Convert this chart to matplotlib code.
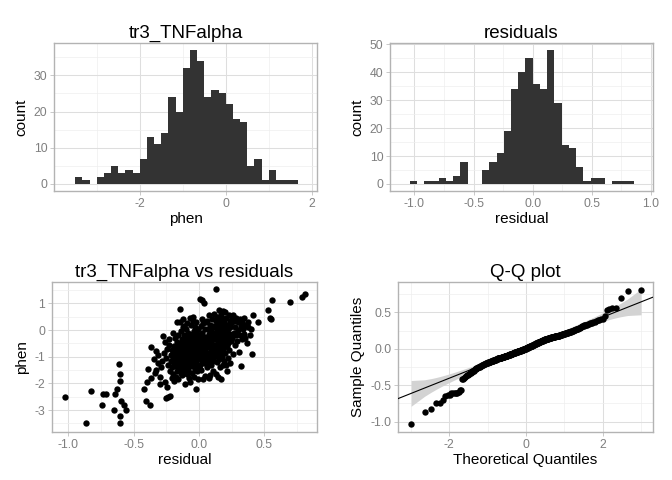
import numpy as np
import matplotlib
matplotlib.use('Agg')
import matplotlib.pyplot as plt
from statistics import NormalDist

plt.rcParams['font.family'] = ['Liberation Sans', 'DejaVu Sans']
plt.rcParams['axes.unicode_minus'] = False

# histogram of phen: first bin edge, bin width, counts
phen_start = -3.5135
phen_bw = 0.1672
phen_counts = [2, 1, 0, 2, 3, 5, 3, 4, 3, 7, 13, 11, 14, 24, 20, 32, 37, 34,
               24, 26, 25, 22, 18, 17, 5, 7, 1, 4, 1, 1, 1]

# histogram of residuals
resid_start = -1.0395
resid_bw = 0.06116
resid_counts = [1, 0, 1, 1, 2, 1, 3, 8, 0, 0, 5, 8, 11, 19, 34, 40, 45, 36, 34,
                48, 29, 14, 13, 6, 1, 2, 2, 0, 1, 1, 1]

resid = [
    -1.028, -0.867, -0.824, -0.745, -0.738, -0.708, -0.653, -0.640, -0.627,
    -0.610, -0.607, -0.602, -0.604, -0.601, -0.598, -0.571, -0.560,
    -0.421, -0.408, -0.398, -0.390, -0.377,
    -0.365, -0.364, -0.347, -0.340, -0.329, -0.326, -0.315, -0.311,
    -0.301, -0.298, -0.290, -0.283, -0.275, -0.270, -0.262, -0.258, -0.255, -0.250, -0.248,
    -0.243, -0.240, -0.236, -0.232, -0.228, -0.224, -0.220, -0.217, -0.214, -0.210,
    -0.206, -0.203, -0.200, -0.197, -0.195, -0.192, -0.190, -0.188, -0.186,
    -0.183, -0.181, -0.179, -0.177, -0.175, -0.173, -0.171, -0.169, -0.167, -0.165,
    -0.163, -0.161, -0.159, -0.157, -0.155, -0.153, -0.151, -0.149, -0.147, -0.145,
    -0.143, -0.141, -0.139, -0.137, -0.135, -0.133, -0.131, -0.130, -0.129, -0.128,
    -0.127, -0.126, -0.125, -0.124,
    -0.122, -0.120, -0.119, -0.117, -0.116, -0.114, -0.113, -0.111, -0.110, -0.108,
    -0.107, -0.105, -0.104, -0.102, -0.101, -0.099, -0.098, -0.096, -0.095, -0.094,
    -0.092, -0.091, -0.089, -0.088, -0.086, -0.085, -0.083, -0.082, -0.080, -0.079,
    -0.077, -0.076, -0.074, -0.073, -0.071, -0.070, -0.068, -0.067, -0.065, -0.063,
    -0.061, -0.060, -0.058, -0.057, -0.056, -0.054, -0.053, -0.052, -0.050, -0.049,
    -0.048, -0.046, -0.045, -0.044, -0.042, -0.041, -0.040, -0.038, -0.037, -0.036,
    -0.034, -0.033, -0.032, -0.030, -0.029, -0.028, -0.026, -0.025, -0.024, -0.023,
    -0.021, -0.020, -0.019, -0.017, -0.016, -0.015, -0.013, -0.012, -0.011, -0.009,
    -0.008, -0.007, -0.005, -0.004, -0.002,
    0.001, 0.003, 0.004, 0.006, 0.008, 0.009, 0.011, 0.012, 0.014, 0.016,
    0.017, 0.019, 0.020, 0.022, 0.024, 0.025, 0.027, 0.029, 0.030, 0.032,
    0.033, 0.035, 0.037, 0.038, 0.040, 0.042, 0.043, 0.045, 0.046, 0.048,
    0.050, 0.051, 0.053, 0.055, 0.057, 0.059,
    0.062, 0.064, 0.066, 0.067, 0.069, 0.071, 0.073, 0.074, 0.076, 0.078,
    0.080, 0.081, 0.083, 0.085, 0.087, 0.088, 0.090, 0.092, 0.094, 0.095,
    0.097, 0.099, 0.101, 0.102, 0.104, 0.106, 0.108, 0.109, 0.111, 0.113,
    0.115, 0.116, 0.118, 0.120,
    0.123, 0.124, 0.126, 0.127, 0.128, 0.130, 0.131, 0.132, 0.134, 0.135,
    0.136, 0.138, 0.139, 0.140, 0.142, 0.143, 0.144, 0.146, 0.147, 0.148,
    0.150, 0.151, 0.152, 0.154, 0.155, 0.156, 0.158, 0.159, 0.160, 0.162,
    0.163, 0.164, 0.166, 0.167, 0.168, 0.170, 0.171, 0.172, 0.174, 0.175,
    0.176, 0.177, 0.178, 0.179, 0.180, 0.181, 0.182, 0.183,
    0.185, 0.187, 0.189, 0.191, 0.193, 0.195, 0.197, 0.199, 0.201, 0.203,
    0.205, 0.207, 0.209, 0.211, 0.213, 0.215, 0.217, 0.219, 0.221, 0.223,
    0.225, 0.227, 0.229, 0.232, 0.235, 0.237, 0.239, 0.241, 0.244,
    0.247, 0.251, 0.255, 0.258, 0.262, 0.266, 0.270, 0.274, 0.278, 0.283,
    0.287, 0.292, 0.297, 0.302,
    0.308, 0.312, 0.317, 0.322, 0.324, 0.328, 0.333, 0.338, 0.343, 0.348,
    0.354, 0.359, 0.364,
    0.372, 0.377, 0.390, 0.398, 0.408, 0.415,
    0.449, 0.528, 0.545, 0.555, 0.559, 0.696, 0.790, 0.812,
]
phen = [
    -2.52, -3.50, -2.30, -2.82, -2.41, -2.41, -2.99, -2.40, -2.20,
    -1.26, -1.65, -1.90, -3.21, -3.50, -2.65, -2.81, -2.99,
    -2.20, -2.65, -1.95, -1.47, -2.82,
    -0.64, -1.79, -1.07, -1.60, -0.79, -1.49, -1.25, -0.93,
    -2.04, -1.76, -1.40, -1.17, -0.22, -0.85, -0.45, -1.95, -1.05, -2.56, -0.70,
    -2.13, -2.50, -1.30, -0.55, -0.33, -2.47, -1.55, -0.95, -1.15, -0.75,
    -1.80, -1.40, -0.10, -1.00, -1.65, -0.60, -1.25, -1.90, -0.85,
    -1.10, -0.30, -1.75, -0.70, -1.35, -0.95, 0.30, -1.55, -0.45, -1.20,
    -0.80, -1.00, -1.85, -0.20, -1.45, -0.60, -1.05, -1.30, 0.32, -0.85,
    0.80, -1.60, -0.50, -1.15, -0.05, -0.90, -1.70, -0.35, -1.25, -0.75,
    -1.40, 0.10, -1.00, -0.65,
    0.40, -0.85, -1.30, -0.20, -0.65, -1.55, -0.95, 0.15, -1.10, -0.45,
    -2.01, -0.75, -1.40, -0.30, -0.55, -1.20, 0.05, -0.90, -1.65, -0.60,
    -1.00, -0.40, -1.25, 0.25, -0.80, -1.50, -0.10, -0.70, -1.05, -1.80,
    -0.35, -0.50, -1.15, -0.25, -0.85, -1.35, 0.45, -0.65, -1.95, -0.95,
    -0.70, 0.20, -1.25, -0.45, -0.95, -1.60, -0.15, -0.80, -1.05, 0.35,
    -0.55, -1.35, -0.30, 0.49, -0.90, -1.15, -0.65, -1.75, -0.05, -0.40,
    -1.00, -0.75, -1.45, 0.10, -0.60, -0.85, -1.20, -0.25, -2.21, -0.50,
    -0.95, -1.30, 0.30, -0.70, -1.10, -0.35, -1.55, -0.15, -0.80, -1.85,
    -0.45, 0.05, -1.00, -0.60, -1.40,
    -0.55, -1.05, -0.20, -0.80, 1.15, -1.30, -0.45, 0.15, -0.95, -0.65,
    -1.50, -0.30, 1.13, 0.42, -0.75, -1.15, -0.10, -0.55, -1.85, -0.85,
    0.25, -0.40, -1.00, -0.60, 1.02, -1.25, -0.25, 0.05, -1.73, -0.70,
    -0.35, -1.10, 0.30, -0.90, -0.50, -1.40,
    -0.30, 0.35, -0.85, -0.50, -1.20, 0.05, -0.65, -1.80, -0.15, -0.95,
    0.55, -0.40, -1.05, -0.25, -1.70, 0.20, -0.70, -0.45, -1.30, 0.00,
    -0.60, -0.90, 0.40, -0.35, -1.15, -0.10, -0.75, -1.55, 0.15, -0.55,
    -0.20, -1.00, 0.60, -0.80,
    -0.35, 0.10, -0.75, 1.54, -0.15, -1.65, 0.35, -0.55, -0.95, 0.20,
    -0.30, -1.20, 0.50, -0.05, -0.70, -0.40, -1.75, 0.25, -0.85, -0.20,
    0.05, -0.60, -1.10, 0.40, -0.45, 0.75, -0.25, -0.90, 0.15, -1.40,
    -0.10, -0.65, 0.30, -0.35, -1.83, 0.00, -0.50, 0.60, -0.80, -0.15,
    0.20, -1.00, -0.40, 0.45, -0.05, -0.70, -1.30, 0.10,
    -0.20, 0.72, -0.65, 0.30, -1.15, -0.05, -0.45, 0.15, -0.85, 0.67,
    -0.30, -1.30, 0.45, -0.10, -1.55, -0.60, 0.20, -0.35, -1.05, 0.05,
    -0.50, 0.55, -0.25, -0.75, 0.35, -0.15, -1.25, 0.10, -0.40,
    0.25, -0.30, 0.50, -0.90, 0.55, -0.10, 0.35, -0.55, 0.10, -0.20,
    0.45, -0.40, 0.00, 0.30,
    -0.84, 0.40, -0.20, 0.15, -1.34, -0.35, 0.30, 0.05, -0.15, 0.45,
    -0.30, 0.20, -0.50,
    0.10, 0.30, -0.20, 0.05, -0.91, 0.58,
    0.29, 0.74, 0.46, 0.43, 1.11, 1.05, 1.25, 1.37,
]

BORDER = '#B3B3B3'
TICKTXT = '#7F7F7F'


def style(ax, xmaj, xlab, xmin, xlim, ymaj, ylab, ymin, ylim):
    ax.set_xlim(xlim)
    ax.set_ylim(ylim)
    ax.set_xticks(xmaj)
    ax.set_xticklabels(xlab)
    ax.set_xticks(xmin, minor=True)
    ax.set_yticks(ymaj)
    ax.set_yticklabels(ylab)
    ax.set_yticks(ymin, minor=True)
    ax.grid(which='major', color='#DEDEDE', lw=0.75)
    ax.grid(which='minor', color='#EEEEEE', lw=0.5)
    ax.set_axisbelow(True)
    for s in ax.spines.values():
        s.set_color(BORDER)
        s.set_linewidth(1.0)
    ax.tick_params(which='major', length=2.8, width=0.5, color=BORDER,
                   labelsize=8.8, labelcolor=TICKTXT, pad=2.2)
    ax.tick_params(which='minor', length=0)


fig = plt.figure(figsize=(6.72, 4.8), dpi=100)
W, H = 672.0, 480.0


def panel(l, r, t, b):
    return fig.add_axes([l / W, 1 - b / H, (r - l) / W, (b - t) / H])


# top left: histogram of phen
ax1 = panel(54.3, 316.7, 43.3, 190.7)
e = phen_start + phen_bw * np.arange(len(phen_counts))
ax1.bar(e, phen_counts, width=phen_bw, align='edge', color='#333333', lw=0)
style(ax1, [-2, 0, 2], ['-2', '0', '2'], [-3, -1, 1], (-4.0, 2.117),
      [0, 10, 20, 30], ['0', '10', '20', '30'], [5, 15, 25, 35], (-1.85, 38.85))
ax1.set_title('tr3_TNFalpha', fontsize=13.5, pad=4)
ax1.set_xlabel('phen', fontsize=11, labelpad=2)
ax1.set_ylabel('count', fontsize=11, labelpad=4)

# top right: histogram of residuals
ax2 = panel(390.3, 652.7, 43.3, 190.7)
e = resid_start + resid_bw * np.arange(len(resid_counts))
ax2.bar(e, resid_counts, width=resid_bw, align='edge', color='#333333', lw=0)
style(ax2, [-1, -0.5, 0, 0.5, 1], ['-1.0', '-0.5', '0.0', '0.5', '1.0'],
      [-0.75, -0.25, 0.25, 0.75], (-1.203, 1.014),
      [0, 10, 20, 30, 40, 50], ['0', '10', '20', '30', '40', '50'],
      [5, 15, 25, 35, 45], (-2.4, 50.4))
ax2.set_title('residuals', fontsize=13.5, pad=4)
ax2.set_xlabel('residual', fontsize=11, labelpad=2)
ax2.set_ylabel('count', fontsize=11, labelpad=4)

# bottom left: scatter
ax3 = panel(52.3, 316.7, 282.3, 431.7)
ax3.scatter(resid, phen, s=21, color='black', lw=0, zorder=3)
style(ax3, [-1, -0.5, 0, 0.5], ['-1.0', '-0.5', '0.0', '0.5'],
      [-0.75, -0.25, 0.25, 0.75], (-1.1224, 0.901),
      [-3, -2, -1, 0, 1], ['-3', '-2', '-1', '0', '1'],
      [-3.5, -2.5, -1.5, -0.5, 0.5, 1.5], (-3.81, 1.79))
ax3.set_title('tr3_TNFalpha vs residuals', fontsize=13.5, pad=4)
ax3.set_xlabel('residual', fontsize=11, labelpad=2)
ax3.set_ylabel('phen', fontsize=11, labelpad=4)

# bottom right: Q-Q plot with pointwise band
ax4 = panel(398.3, 652.7, 282.3, 431.7)
nd = NormalDist()
samp = np.sort(np.array(resid))
n = len(samp)
pp = (np.arange(1, n + 1) - 0.5) / n
theo = np.array([nd.inv_cdf(v) for v in pp])
q1, q3 = np.quantile(samp, [0.25, 0.75])
z1, z3 = nd.inv_cdf(0.25), nd.inv_cdf(0.75)
slope = (q3 - q1) / (z3 - z1)
icpt = q1 - slope * z1
fit = icpt + slope * theo
dens = np.array([nd.pdf(v) for v in theo])
se = slope / dens * np.sqrt(pp * (1 - pp) / n)
zc = nd.inv_cdf(0.975)
ax4.fill_between(theo, fit - zc * se, fit + zc * se, color='#D3D3D3', lw=0, zorder=2)
xl = np.array([-3.33, 3.30])
ax4.plot(xl, icpt + slope * xl, color='black', lw=0.8, zorder=3)
ax4.scatter(theo, samp, s=21, color='black', lw=0, zorder=4)
style(ax4, [-2, 0, 2], ['-2', '0', '2'], [-3, -1, 1, 3], (-3.33, 3.30),
      [-1, -0.5, 0, 0.5], ['-1.0', '-0.5', '0.0', '0.5'],
      [-0.75, -0.25, 0.25, 0.75], (-1.137, 0.912))
ax4.set_title('Q-Q plot', fontsize=13.5, pad=4)
ax4.set_xlabel('Theoretical Quantiles', fontsize=11, labelpad=2)
ax4.set_ylabel('Sample Quantiles', fontsize=11, labelpad=4)

fig.savefig('out.png', dpi=100)
